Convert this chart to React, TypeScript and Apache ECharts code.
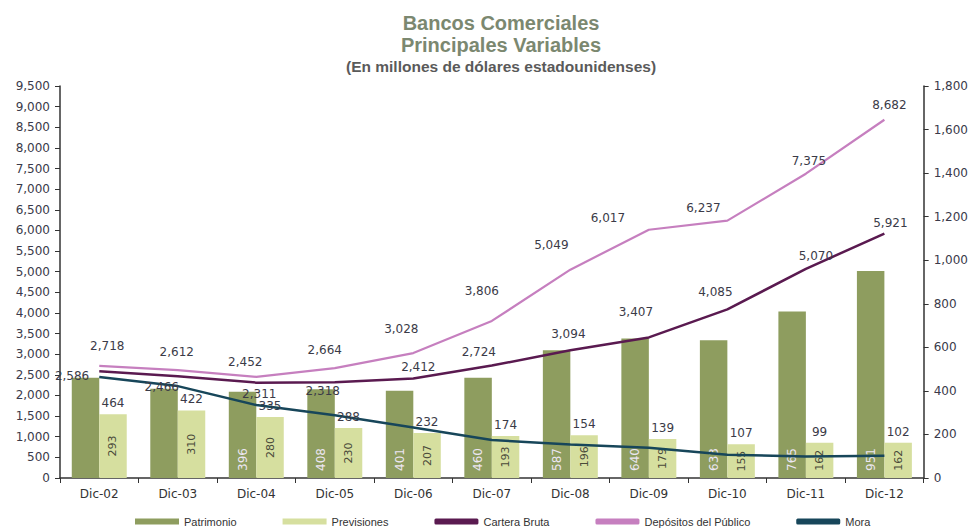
import React, { useEffect, useRef } from "react";
import * as echarts from "echarts";

const categories = ["Dic-02", "Dic-03", "Dic-04", "Dic-05", "Dic-06", "Dic-07", "Dic-08", "Dic-09", "Dic-10", "Dic-11", "Dic-12"];
const patrimonio = [460, 410, 396, 408, 401, 460, 587, 640, 633, 765, 951];
const previsiones = [293, 310, 280, 230, 207, 193, 196, 179, 155, 162, 162];
const carteraBruta = [2586, 2466, 2311, 2318, 2412, 2724, 3094, 3407, 4085, 5070, 5921];
const depositos = [2718, 2612, 2452, 2664, 3028, 3806, 5049, 6017, 6237, 7375, 8682];
const mora = [464, 422, 335, 288, 232, 174, 154, 139, 107, 99, 102];
const patrimonioLabelShown = [false, false, true, true, true, true, true, true, true, true, true];

// label placement (styling only)
const carteraLabelPos = ["left", "bottom", "bottom", "bottom", "top", "top", "top", "top", "top", "top", "top"];
const carteraLabelOffset = [[-5, 5], [-16, 0], [3, 0], [-12, -2], [5, 0], [-13, -3], [-2, -5], [-13, -14], [-12, -6], [10, -2], [6, 0]];
const depLabelOffset = [[8, -9], [-1, -7], [-11, -4], [-10, -7], [-12, -13], [-10, -19], [-19, -14], [-41, -1], [-24, -2], [3, -2], [5, -4]];

const fmt = (v: number) => v.toLocaleString("en-US");
const FONT = "DejaVu Sans";
const LABEL_COLOR = "#3b3b48";

const COLORS = {
  patrimonio: "#8e9d5f",
  previsiones: "#d6df9f",
  cartera: "#5a1a50",
  depositos: "#c67fbf",
  mora: "#17465a",
};

export default function App() {
  const ref = useRef<HTMLDivElement>(null);

  useEffect(() => {
    if (!ref.current) return;
    const chart = echarts.init(ref.current, undefined, { renderer: "svg" });

    const lineLabel = {
      show: true,
      distance: 5,
      fontFamily: FONT,
      fontSize: 12,
      color: LABEL_COLOR,
      formatter: (p: any) => fmt(p.value),
    };

    const option: any = {
      animation: false,
      backgroundColor: "#ffffff",
      title: {
        text: "Bancos Comerciales\nPrincipales Variables",
        subtext: "(En millones de dólares estadounidenses)",
        left: 496,
        textAlign: "center",
        top: 7,
        itemGap: 2,
        textStyle: {
          fontFamily: "Liberation Sans",
          fontSize: 20,
          fontWeight: "bold",
          color: "#7b8870",
          lineHeight: 22,
        },
        subtextStyle: {
          fontFamily: "Liberation Sans",
          fontSize: 15.5,
          fontWeight: "bold",
          color: "#5a5a5a",
        },
      },
      legend: {
        bottom: -1,
        left: 130,
        itemWidth: 44,
        itemHeight: 6,
        itemGap: 46,
        textStyle: { fontFamily: "Liberation Sans", fontSize: 11, color: "#333" },
        data: [
          { name: "Patrimonio", icon: "rect" },
          { name: "Previsiones", icon: "rect" },
          { name: "Cartera Bruta", icon: "roundRect" },
          { name: "Depósitos del Público", icon: "roundRect" },
          { name: "Mora", icon: "roundRect" },
        ],
      },
      grid: { left: 60, right: 46, top: 86, bottom: 53 },
      xAxis: {
        type: "category",
        data: categories,
        boundaryGap: true,
        axisLine: { lineStyle: { color: "#333", width: 1.5 } },
        axisTick: { show: true, alignWithLabel: false, length: 5, lineStyle: { color: "#333" } },
        axisLabel: { fontFamily: FONT, fontSize: 12, color: "#333", margin: 10 },
      },
      yAxis: [
        {
          type: "value",
          min: 0,
          max: 9500,
          interval: 500,
          splitLine: { show: false },
          axisLine: { show: true, lineStyle: { color: "#333", width: 1.5 } },
          axisTick: { show: true, length: 5, lineStyle: { color: "#333" } },
          axisLabel: { fontFamily: FONT, fontSize: 12, color: "#3a3a4a", margin: 10, formatter: (v: number) => fmt(v) },
        },
        {
          type: "value",
          min: 0,
          max: 1800,
          interval: 200,
          splitLine: { show: false },
          axisLine: { show: true, lineStyle: { color: "#333", width: 1.5 } },
          axisTick: { show: true, length: 5, lineStyle: { color: "#333" } },
          axisLabel: { fontFamily: FONT, fontSize: 12, color: "#3a3a4a", margin: 10, formatter: (v: number) => fmt(v) },
        },
      ],
      series: [
        {
          name: "Patrimonio",
          type: "bar",
          yAxisIndex: 1,
          barGap: "0%",
          barCategoryGap: "30%",
          itemStyle: { color: COLORS.patrimonio },
          data: patrimonio.map((v, i) => ({ value: v, label: { show: patrimonioLabelShown[i] } })),
          label: {
            show: true,
            position: "insideBottom",
            distance: 7,
            rotate: 90,
            align: "left",
            verticalAlign: "middle",
            fontFamily: FONT,
            fontSize: 12,
            color: "#ece6f2",
            formatter: (p: any) => fmt(p.value),
          },
          z: 2,
        },
        {
          name: "Previsiones",
          type: "bar",
          yAxisIndex: 1,
          stack: "prev",
          itemStyle: { color: COLORS.previsiones },
          data: previsiones,
          label: {
            show: true,
            position: "inside",
            rotate: 90,
            align: "center",
            verticalAlign: "middle",
            fontFamily: FONT,
            fontSize: 11,
            color: "#4a4a3a",
            formatter: (p: any) => fmt(p.value),
          },
          z: 2,
        },
        {
          name: "MoraEtiqueta",
          type: "bar",
          yAxisIndex: 1,
          stack: "prev",
          itemStyle: { color: "rgba(0,0,0,0)" },
          silent: true,
          data: mora,
          label: {
            show: true,
            position: "insideBottom",
            distance: 5,
            fontFamily: FONT,
            fontSize: 12,
            color: LABEL_COLOR,
            formatter: (p: any) => fmt(p.value),
          },
          z: 5,
        },
        {
          name: "Cartera Bruta",
          type: "line",
          yAxisIndex: 0,
          symbol: "circle",
          symbolSize: 0.01,
          showSymbol: true,
          lineStyle: { color: COLORS.cartera, width: 2.5 },
          itemStyle: { color: COLORS.cartera },
          data: carteraBruta.map((v, i) => ({
            value: v,
            label: { position: carteraLabelPos[i] },
          })),
          label: lineLabel,
          labelLayout: (p: any) => ({
            dx: carteraLabelOffset[p.dataIndex][0],
            dy: carteraLabelOffset[p.dataIndex][1],
            hideOverlap: false,
          }),
          z: 4,
        },
        {
          name: "Depósitos del Público",
          type: "line",
          yAxisIndex: 0,
          symbol: "circle",
          symbolSize: 0.01,
          showSymbol: true,
          lineStyle: { color: COLORS.depositos, width: 2.2 },
          itemStyle: { color: COLORS.depositos },
          data: depositos,
          label: { ...lineLabel, position: "top" },
          labelLayout: (p: any) => ({
            dx: depLabelOffset[p.dataIndex][0],
            dy: depLabelOffset[p.dataIndex][1],
            hideOverlap: false,
          }),
          z: 4,
        },
        {
          name: "Mora",
          type: "line",
          yAxisIndex: 1,
          symbol: "none",
          lineStyle: { color: COLORS.mora, width: 2.5 },
          itemStyle: { color: COLORS.mora },
          data: mora,
          z: 4,
        },
      ],
    };

    chart.setOption(option);
    return () => chart.dispose();
  }, []);

  return <div ref={ref} style={{ width: 971, height: 531, position: "absolute", left: 0, top: 0 }} />;
}
